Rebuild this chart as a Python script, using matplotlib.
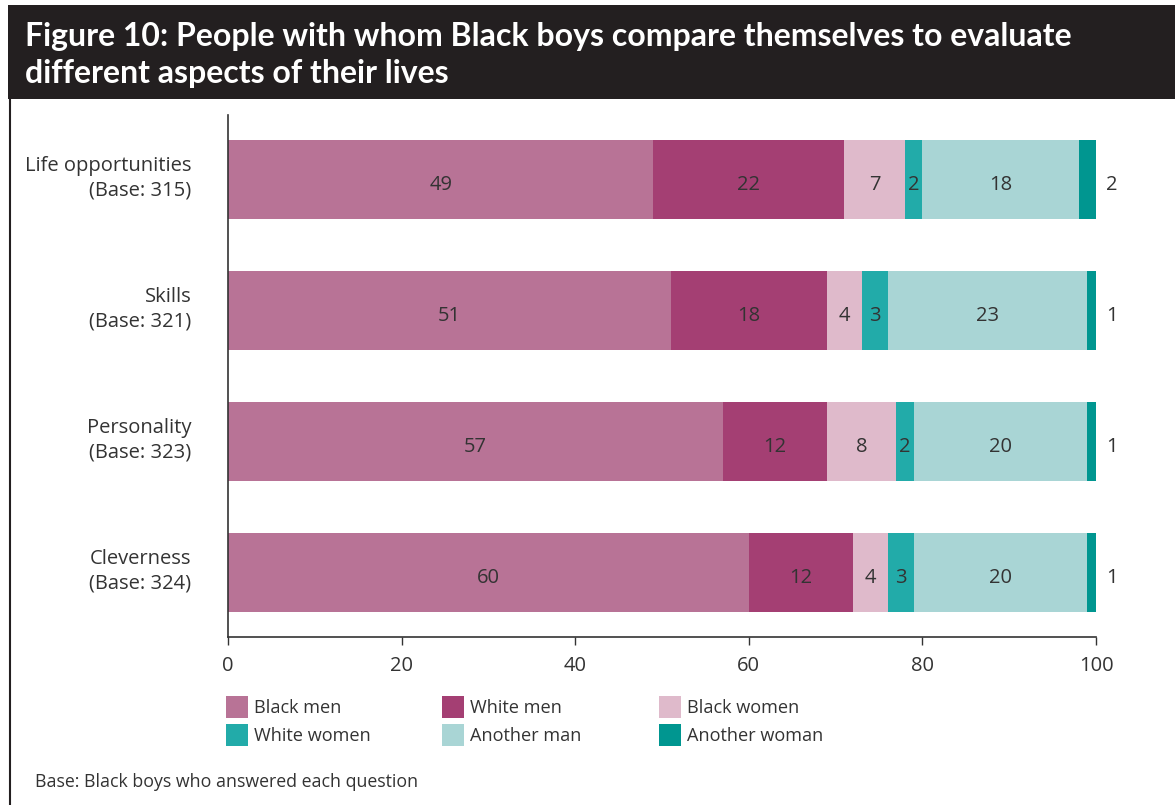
import matplotlib
matplotlib.use("Agg")
import matplotlib.pyplot as plt
from matplotlib.patches import Rectangle
from matplotlib.lines import Line2D
from matplotlib.transforms import ScaledTranslation
import numpy as np

plt.rcParams['font.family'] = ['Open Sans', 'DejaVu Sans']

categories = ["Life opportunities\n(Base: 315)", "Skills\n(Base: 321)",
              "Personality\n(Base: 323)", "Cleverness\n(Base: 324)"]
series_names = ["Black men", "White men", "Black women",
                "White women", "Another man", "Another woman"]
black_men = [49, 51, 57, 60]
white_men = [22, 18, 12, 12]
black_women = [7, 4, 8, 4]
white_women = [2, 3, 2, 3]
another_man = [18, 23, 20, 20]
another_woman = [2, 1, 1, 1]
colors = ["#B87396", "#A43F73", "#DFBACB", "#22ABA9", "#A9D5D5", "#009690"]
xticks = [0, 20, 40, 60, 80, 100]

series = [black_men, white_men, black_women, white_women, another_man, another_woman]

W, H = 1175, 805
fig = plt.figure(figsize=(W / 100, H / 100), dpi=100)
fig.patch.set_facecolor("white")

# title band
fig.patches.append(Rectangle((8 / W, 1 - 99 / H), 1 - 8 / W, 94 / H,
                             transform=fig.transFigure, facecolor="#231F20",
                             edgecolor="none", zorder=0))
fig.lines.append(Line2D([9.5 / W, 9.5 / W], [0, 1 - 99 / H], transform=fig.transFigure,
                        color="#231F20", lw=1.5))
fig.text(25 / W, 1 - 55 / H,
         "Figure 10: People with whom Black boys compare themselves to evaluate\ndifferent aspects of their lives",
         color="white", fontsize=23, fontweight="bold", va="center", ha="left",
         linespacing=1.3, family=["Lato", "DejaVu Sans"])

ax = fig.add_axes([228 / W, 1 - 637 / H, (1096 - 228) / W, (637 - 115) / H])
y = np.arange(len(categories))
left = np.zeros(len(categories))
text_color = "#333333"
val_tr = ax.transData + ScaledTranslation(0, -3 / 100, fig.dpi_scale_trans)
for i, (vals, c, name) in enumerate(zip(series, colors, series_names)):
    vals = np.array(vals, dtype=float)
    ax.barh(y, vals, left=left, height=0.6, color=c, label=name, edgecolor="none")
    for j in range(len(categories)):
        if i == len(series) - 1:
            ax.text(101.8, y[j], f"{int(vals[j])}", ha="center", va="center_baseline",
                    fontsize=14.5, color=text_color, transform=val_tr)
        else:
            ax.text(left[j] + vals[j] / 2, y[j], f"{int(vals[j])}", ha="center",
                    va="center_baseline", fontsize=14.5, color=text_color,
                    transform=val_tr)
    left += vals

ax.set_xlim(0, 100)
ax.set_ylim(3.49, -0.49)
ax.set_yticks(y)
ax.set_yticklabels(categories, fontsize=14.5, color=text_color, ha="right",
                   linespacing=1.3)
ax.tick_params(axis="y", length=0, pad=26.5)
shift = ScaledTranslation(0, 6 / 100, fig.dpi_scale_trans)
for lbl in ax.get_yticklabels():
    lbl.set_transform(lbl.get_transform() + shift)
ax.set_xticks(xticks)
ax.set_xticklabels([str(t) for t in xticks], fontsize=14.5, color=text_color)
ax.tick_params(axis="x", length=6, width=1, color="#333333", pad=8)
for s in ["top", "right"]:
    ax.spines[s].set_visible(False)
for s in ["left", "bottom"]:
    ax.spines[s].set_color("#333333")
    ax.spines[s].set_linewidth(1.2)

# legend (manual layout in figure coords)
col_x = [226, 442, 659]
row_y = [696, 724]
for k, (name, c) in enumerate(zip(series_names, colors)):
    r, cidx = divmod(k, 3)
    x0, y0 = col_x[cidx], row_y[r]
    fig.patches.append(Rectangle((x0 / W, 1 - (y0 + 22) / H), 22 / W, 22 / H,
                                 transform=fig.transFigure, facecolor=c,
                                 edgecolor="none"))
    fig.text((x0 + 28) / W, 1 - (y0 + 12) / H, name, fontsize=13.1,
             color=text_color, va="center", ha="left")

fig.text(35 / W, 1 - 782 / H, "Base: Black boys who answered each question",
         fontsize=12.8, color=text_color, va="center", ha="left")

fig.savefig("out.png", dpi=100, facecolor="white")
